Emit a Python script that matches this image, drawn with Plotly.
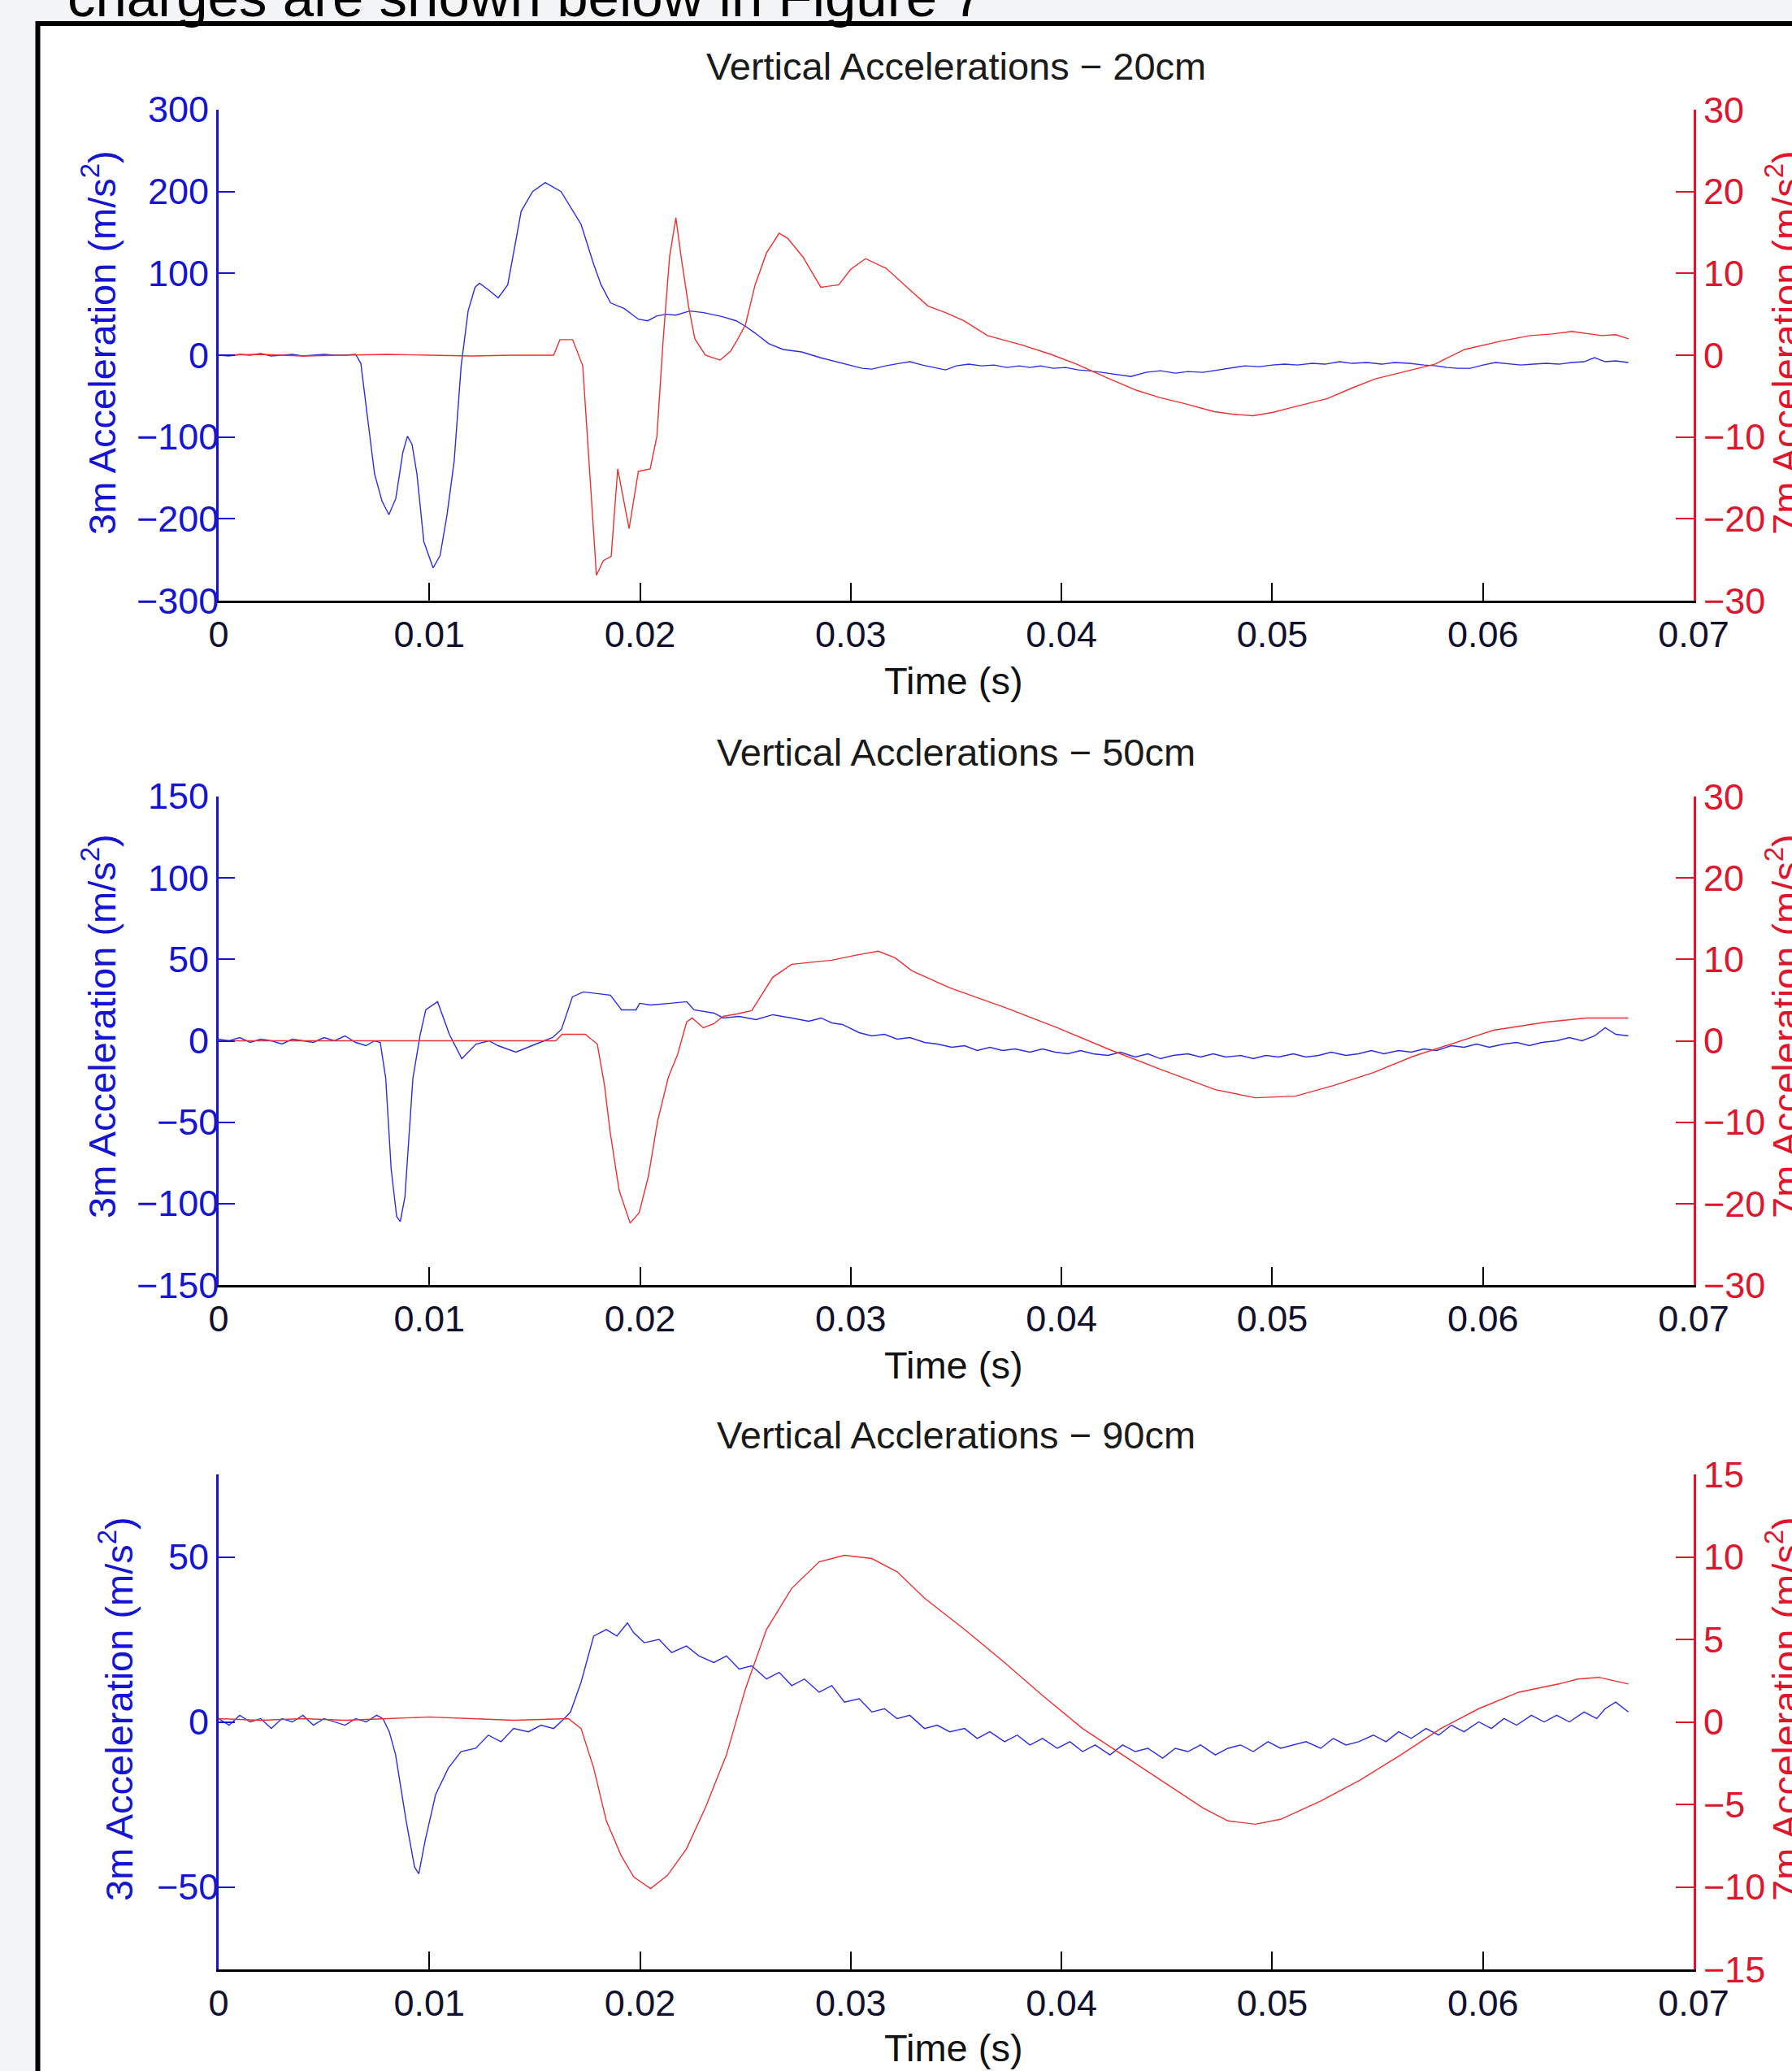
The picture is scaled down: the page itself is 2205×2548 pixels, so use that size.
import numpy as np
import plotly.graph_objects as go

# ---- data (time in ms, accelerations in m/s^2) ----
# 20cm charge, 3m gauge (left axis)
t_20_3m = [0, 0.5, 1.0, 1.5, 2.0, 2.5, 3.0, 3.5, 4.0, 4.5,
           5.0, 5.5, 6.0, 6.5, 6.75, 7.08, 7.4, 7.75, 8.08, 8.41,
           8.74, 8.96, 9.18, 9.41, 9.74, 10.18, 10.51, 10.84, 11.18, 11.51,
           11.84, 12.17, 12.38, 12.8, 13.27, 13.72, 14.36, 14.9, 15.5, 16.25,
           17.2, 17.8, 18.15, 18.6, 19.25, 19.92, 20.36, 20.8, 21.25, 21.69,
           22.36, 23.02, 23.91, 24.57, 25.02, 25.46, 26.11, 26.79, 27.67, 28.55,
           29.44, 30.54, 31.0, 31.65, 32.3, 32.8, 33.4, 34.0, 34.5, 35.0,
           35.6, 36.2, 36.8, 37.4, 38.0, 38.5, 39.0, 39.6, 40.2, 40.8,
           41.3, 41.9, 42.5, 43.3, 44.0, 44.7, 45.4, 46.0, 46.7, 47.4,
           48.0, 48.7, 49.4, 50.0, 50.6, 51.2, 51.9, 52.5, 53.2, 53.8,
           54.5, 55.2, 55.8, 56.5, 57.2, 57.8, 58.3, 58.8, 59.4, 60.0,
           60.6, 61.1, 61.8, 62.4, 63.0, 63.6, 64.2, 64.8, 65.3, 65.8,
           66.3, 66.9]
a_20_3m = [0, -1, 1, 0, 2, -1, 0, 1, -1, 0,
           1, 0, 0, 1, -10, -79, -145, -178, -195, -175,
           -119, -99, -109, -145, -228, -260, -245, -195, -129, -13,
           54, 83, 88, 80, 70, 86, 176, 200, 211, 200,
           160, 111, 86, 64, 57, 44, 42, 48, 50, 49,
           54, 52, 47, 42, 35, 27, 14, 7, 4, -3,
           -9, -16, -17, -13, -10, -8, -12, -15, -18, -13,
           -11, -13, -12, -15, -13, -15, -13, -16, -15, -18,
           -19, -21, -23, -26, -21, -19, -22, -20, -21, -18,
           -16, -13, -14, -12, -11, -12, -10, -11, -8, -10,
           -9, -11, -9, -10, -12, -13, -15, -16, -16, -12,
           -9, -10, -12, -11, -10, -11, -9, -8, -3, -8,
           -7, -9]

# 20cm charge, 7m gauge (right axis)
t_20_7m = [0, 2, 4, 6, 8, 10, 12, 14, 15.9, 16.2,
           16.8, 17.28, 17.93, 18.26, 18.63, 18.94, 19.48, 19.92, 20.48, 20.8,
           21.1, 21.4, 21.7, 21.95, 22.3, 22.6, 23.1, 23.8, 24.3, 24.6,
           25.0, 25.46, 26.0, 26.6, 27.0, 27.73, 28.58, 29.43, 30.0, 30.7,
           31.69, 32.67, 33.67, 34.5, 35.37, 36.49, 37.3, 38.18, 39.5, 40.73,
           42.1, 43.57, 44.7, 45.82, 47.25, 48.1, 49.09, 50.0, 50.93, 52.62,
           53.8, 54.89, 56.3, 57.71, 59.13, 60.82, 62.24, 63.3, 64.22, 65.0,
           65.64, 66.3, 66.91]
a_20_7m = [0, 0.1, -0.1, 0, 0.1, 0, -0.1, 0, 0, 1.9,
           1.9, -1.3, -26.9, -25.1, -24.6, -13.9, -21.2, -14.2, -13.9, -9.9,
           2, 12, 16.8, 12, 6, 2, 0, -0.6, 0.5, 1.8,
           3.7, 8.6, 12.5, 14.9, 14.3, 12.0, 8.3, 8.6, 10.5, 11.8,
           10.6, 8.3, 6.0, 5.2, 4.2, 2.4, 1.8, 1.2, 0.1, -1.1,
           -2.7, -4.3, -5.2, -5.9, -6.9, -7.2, -7.4, -7.0, -6.4, -5.3,
           -4.0, -2.9, -2.0, -1.1, 0.7, 1.7, 2.4, 2.6, 2.9, 2.6,
           2.4, 2.5, 2.0]

# 50cm charge, 3m gauge
t_50_3m = [0, 0.5, 1.0, 1.5, 2.0, 2.5, 3.0, 3.5, 4.0, 4.5,
           5.0, 5.5, 6.0, 6.5, 7.0, 7.4, 7.67, 7.93, 8.19, 8.45,
           8.62, 8.84, 9.22, 9.57, 9.83, 10.39, 10.95, 11.54, 12.22, 12.83,
           13.26, 14.11, 15.06, 15.85, 16.27, 16.79, 17.31, 18.59, 19.12, 19.81,
           19.98, 20.5, 21.44, 22.22, 22.56, 23.51, 23.94, 24.7, 25.5, 26.3,
           27.2, 28.0, 28.6, 29.1, 29.6, 30.4, 31.0, 31.6, 32.2, 32.8,
           33.5, 34.1, 34.8, 35.4, 36.0, 36.6, 37.2, 37.8, 38.5, 39.1,
           39.7, 40.3, 40.9, 41.5, 42.2, 42.8, 43.5, 44.1, 44.7, 45.3,
           46.0, 46.6, 47.2, 47.8, 48.5, 49.1, 49.7, 50.3, 51.0, 51.6,
           52.2, 52.8, 53.5, 54.1, 54.7, 55.3, 56.0, 56.6, 57.2, 57.8,
           58.5, 59.1, 59.7, 60.3, 61.0, 61.6, 62.2, 62.8, 63.5, 64.1,
           64.7, 65.3, 65.8, 66.3, 66.9]
a_50_3m = [1, 0, 2, -1, 1, 0, -2, 1, 0, -1,
           2, 0, 3, -1, -3, 0, -1, -23, -79, -108,
           -111, -96, -23, 4, 19, 24, 4, -11, -2, 0,
           -3, -7, -2, 2, 7, 27, 30, 28, 19, 19,
           23, 22, 23, 24, 19, 17, 14, 15, 13, 16,
           14, 12, 14, 11, 10, 5, 3, 4, 1, 2,
           -1, -2, -4, -3, -6, -4, -6, -5, -7, -5,
           -7, -8, -6, -8, -9, -7, -10, -8, -11, -9,
           -8, -10, -8, -10, -9, -11, -9, -10, -8, -10,
           -9, -7, -9, -8, -6, -8, -6, -7, -5, -6,
           -3, -4, -2, -4, -2, -1, -3, -1, 0, 2,
           0, 3, 8, 4, 3]

# 50cm charge, 7m gauge
t_50_7m = [0, 4, 8, 12, 16.0, 16.3, 17.4, 17.97, 18.31, 18.58,
           19.01, 19.53, 19.96, 20.4, 20.83, 21.34, 21.78, 22.21, 22.47, 23.0,
           23.51, 23.94, 24.6, 25.3, 26.3, 27.2, 28.2, 29.1, 30.2, 31.3,
           32.1, 32.9, 34.7, 37.3, 39.8, 42.3, 44.8, 47.3, 49.2, 51.1,
           52.9, 54.8, 56.7, 58.6, 60.5, 63.0, 64.9, 66.9]
a_50_7m = [0, 0, 0, 0, 0, 0.8, 0.8, -0.4, -5.4, -11.2,
           -18.4, -22.4, -21.1, -16.6, -9.9, -4.5, -1.7, 2.3, 2.8, 1.6,
           2.1, 3.0, 3.3, 3.7, 7.8, 9.4, 9.7, 9.9, 10.5, 11.0,
           10.2, 8.6, 6.5, 4.1, 1.6, -1.1, -3.6, -6.0, -7.0, -6.8,
           -5.5, -3.9, -1.9, -0.3, 1.3, 2.3, 2.8, 2.8]

# 90cm charge, 3m gauge
t_90_3m = [0, 0.5, 1.0, 1.5, 2.0, 2.5, 3.0, 3.5, 4.0, 4.5,
           5.0, 5.5, 6.0, 6.5, 7.0, 7.5, 7.8, 8.1, 8.4, 8.9,
           9.3, 9.5, 9.8, 10.3, 10.9, 11.5, 12.2, 12.8, 13.4, 14.0,
           14.7, 15.3, 15.9, 16.4, 16.7, 17.2, 17.8, 18.4, 18.9, 19.4,
           19.7, 20.2, 20.9, 21.5, 22.2, 22.8, 23.5, 24.1, 24.7, 25.3,
           26.0, 26.6, 27.2, 27.8, 28.5, 29.1, 29.7, 30.4, 31.0, 31.6,
           32.2, 32.8, 33.5, 34.1, 34.7, 35.4, 36.0, 36.6, 37.3, 37.9,
           38.5, 39.1, 39.8, 40.4, 41.0, 41.6, 42.3, 42.9, 43.5, 44.1,
           44.8, 45.4, 46.0, 46.6, 47.3, 47.9, 48.5, 49.1, 49.8, 50.4,
           51.0, 51.6, 52.3, 52.9, 53.5, 54.1, 54.8, 55.4, 56.0, 56.6,
           57.3, 57.9, 58.5, 59.1, 59.8, 60.4, 61.0, 61.6, 62.3, 62.9,
           63.5, 64.1, 64.8, 65.4, 65.8, 66.3, 66.9]
a_90_3m = [1, -1, 2, 0, 1, -2, 1, 0, 2, -1,
           1, 0, -1, 1, 0, 2, 1, -3, -10, -30,
           -44, -46, -36, -22, -14, -9, -8, -4, -6, -2,
           -3, -1, -2, 1, 3, 12, 26, 28, 26, 30,
           27, 24, 25, 21, 23, 20, 18, 20, 16, 17,
           13, 15, 11, 13, 9, 11, 6, 7, 3, 4,
           1, 2, -2, -1, -3, -2, -5, -3, -6, -4,
           -7, -5, -8, -6, -9, -7, -10, -7, -9, -8,
           -11, -8, -9, -7, -10, -8, -7, -9, -6, -8,
           -7, -6, -8, -5, -7, -6, -4, -6, -3, -5,
           -2, -4, -1, -3, 0, -2, 1, -1, 2, 0,
           2, 0, 3, 1, 4, 6, 3]

# 90cm charge, 7m gauge
t_90_7m = [0, 2, 4, 6, 8, 10, 12, 14, 16.6, 17.2,
           17.8, 18.4, 19.1, 19.7, 20.5, 21.3, 22.2, 23.1, 24.1, 25.0,
           26.0, 27.2, 28.5, 29.7, 31.0, 32.2, 33.5, 35.4, 37.3, 39.1,
           41.0, 42.9, 44.8, 46.7, 47.9, 49.2, 50.4, 52.3, 54.2, 56.1,
           58.0, 59.8, 61.7, 63.6, 64.5, 65.5, 66.9]
a_90_7m = [0.2, 0.1, 0.2, 0.1, 0.2, 0.3, 0.2, 0.1, 0.2, -0.4,
           -2.8, -6.0, -8.1, -9.4, -10.1, -9.3, -7.7, -5.2, -2.0, 2.0,
           5.6, 8.1, 9.7, 10.1, 9.9, 9.1, 7.5, 5.6, 3.6, 1.6,
           -0.4, -2.0, -3.6, -5.2, -6.0, -6.2, -5.9, -4.8, -3.5, -2.0,
           -0.4, 0.8, 1.8, 2.3, 2.6, 2.7, 2.3]

titles = ['Vertical Accelerations \u2212 20cm',
          'Vertical Acclerations \u2212 50cm',
          'Vertical Acclerations \u2212 90cm']
x_ticks = [0, 0.01, 0.02, 0.03, 0.04, 0.05, 0.06, 0.07]
x_tick_text = ['0', '0.01', '0.02', '0.03', '0.04', '0.05', '0.06', '0.07']
left_ticks = [[-300, -200, -100, 0, 100, 200, 300],
              [-150, -100, -50, 0, 50, 100, 150],
              [-50, 0, 50]]
left_ranges = [[-300, 300], [-150, 150], [-75, 75]]
right_ticks = [[-30, -20, -10, 0, 10, 20, 30],
               [-30, -20, -10, 0, 10, 20, 30],
               [-15, -10, -5, 0, 5, 10, 15]]
right_ranges = [[-30, 30], [-30, 30], [-15, 15]]

series_3m = [(t_20_3m, a_20_3m), (t_50_3m, a_50_3m), (t_90_3m, a_90_3m)]
series_7m = [(t_20_7m, a_20_7m), (t_50_7m, a_50_7m), (t_90_7m, a_90_7m)]

# ---- layout helpers (pixel positions on a 2205x2548 page) ----
W, H = 2205, 2548
FONT = 'Liberation Sans, Arial, sans-serif'
BLUE = '#1414d2'
RED = '#e0142a'
TICKFONT = 45
LABELFONT = 47


def fx(p):
    return p / W


def fy(p):
    return 1 - p / H


X0, X1 = 269, 2084
rows_px = [(135, 739), (980, 1581), (1814, 2423)]
title_y = [81, 925, 1765]
xlabel_y = [837, 1679, 2519]
ylabel_pos = [(122, 422), (122, 1263), (143, 2103)]

fig = go.Figure()
layout = {}
annotations = []

for i in range(3):
    xa = 'x' if i == 0 else f'x{i + 1}'
    yl = 'y' if i == 0 else f'y{2 * i + 1}'
    yr = f'y{2 * i + 2}'
    top, bot = rows_px[i]

    t3, a3 = series_3m[i]
    t7, a7 = series_7m[i]
    fig.add_trace(go.Scatter(x=np.array(t3) / 1000, y=a3, mode='lines',
                             line=dict(color='#2b2bea', width=1.4),
                             xaxis=xa, yaxis=yl, showlegend=False))
    fig.add_trace(go.Scatter(x=np.array(t7) / 1000, y=a7, mode='lines',
                             line=dict(color='#f03030', width=1.4),
                             xaxis=xa, yaxis=yr, showlegend=False))

    layout['xaxis' if i == 0 else f'xaxis{i + 1}'] = dict(
        domain=[fx(X0), fx(X1)], range=[0, 0.07], anchor=yl,
        tickvals=x_ticks, ticktext=x_tick_text,
        showline=True, linecolor='black', linewidth=3,
        ticks='inside', ticklen=22, tickwidth=2, tickcolor='black',
        showgrid=False, zeroline=False,
        tickfont=dict(family=FONT, size=TICKFONT, color='#10102e'))
    # left tick labels are drawn as annotations (MATLAB-style minus overhang)
    layout['yaxis' if i == 0 else f'yaxis{2 * i + 1}'] = dict(
        domain=[fy(bot), fy(top)], range=left_ranges[i], anchor=xa,
        tickvals=left_ticks[i], side='left', showticklabels=False,
        showline=True, linecolor=BLUE, linewidth=3,
        ticks='inside', ticklen=20, tickwidth=2, tickcolor=BLUE,
        showgrid=False, zeroline=False)
    layout[f'yaxis{2 * i + 2}'] = dict(
        range=right_ranges[i], anchor=xa, overlaying=yl, side='right',
        tickvals=right_ticks[i],
        showline=True, linecolor=RED, linewidth=3,
        ticks='inside', ticklen=22, tickwidth=2, tickcolor=RED,
        showgrid=False, zeroline=False,
        tickfont=dict(family=FONT, size=TICKFONT, color=RED))

    for v in left_ticks[i]:
        label = str(v) if v >= 0 else '\u2212' + str(-v)
        annotations.append(dict(text=label, x=fx(259 if v >= 0 else 271), y=v,
                                xref='paper', yref=yl, showarrow=False,
                                xanchor='right', yanchor='middle',
                                font=dict(family=FONT, size=TICKFONT, color=BLUE)))

    annotations.append(dict(text=titles[i], x=fx((X0 + X1) / 2), y=fy(title_y[i]),
                            xref='paper', yref='paper', showarrow=False,
                            xanchor='center', yanchor='middle',
                            font=dict(family=FONT, size=LABELFONT, color='#1a1a1a')))
    annotations.append(dict(text='Time (s)', x=fx(1173), y=fy(xlabel_y[i]),
                            xref='paper', yref='paper', showarrow=False,
                            xanchor='center', yanchor='middle',
                            font=dict(family=FONT, size=LABELFONT, color='#111111')))
    lx, ly = ylabel_pos[i]
    annotations.append(dict(text='3m Acceleration (m/s<sup>2</sup>)',
                            x=fx(lx), y=fy(ly), textangle=-90,
                            xref='paper', yref='paper', showarrow=False,
                            xanchor='center', yanchor='middle',
                            font=dict(family=FONT, size=LABELFONT, color=BLUE)))
    annotations.append(dict(text='7m Acceleration (m/s<sup>2</sup>)',
                            x=fx(2194), y=fy(ly), textangle=-90,
                            xref='paper', yref='paper', showarrow=False,
                            xanchor='center', yanchor='middle',
                            font=dict(family=FONT, size=LABELFONT, color=RED)))

# cut-off line of document text above the figure
annotations.append(dict(text='charges are shown below in Figure 7',
                        x=fx(81), y=fy(-4), xref='paper', yref='paper',
                        showarrow=False, xanchor='left', yanchor='middle',
                        font=dict(family=FONT, size=69, color='black')))

fig.update_layout(
    width=W, height=H,
    margin=dict(l=0, r=0, t=0, b=0, pad=0, autoexpand=False),
    paper_bgcolor='#f3f4f6',
    plot_bgcolor='rgba(0,0,0,0)',
    showlegend=False,
    annotations=annotations,
    shapes=[dict(type='rect', xref='paper', yref='paper',
                 x0=fx(46.5), x1=1.05, y0=-0.05, y1=fy(29),
                 line=dict(color='black', width=6), fillcolor='white',
                 layer='below')],
    **layout
)

fig.write_html('out.html', config={'displayModeBar': False},
               post_script="document.body.style.margin='0';")
